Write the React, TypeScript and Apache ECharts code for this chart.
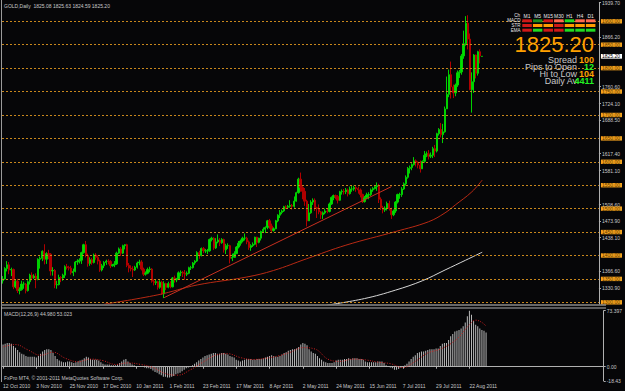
import React, { useEffect, useRef } from 'react';
import * as echarts from 'echarts';

const dateLabels = ['12 Oct 2010', '3 Nov 2010', '25 Nov 2010', '17 Dec 2010', '10 Jan 2011', '1 Feb 2011', '23 Feb 2011', '17 Mar 2011', '8 Apr 2011', '2 May 2011', '24 May 2011', '15 Jun 2011', '7 Jul 2011', '29 Jul 2011', '22 Aug 2011'];
const LABEL_STEP = 16;
const SLOT_COUNT = 289;

// daily candles: [open, close, low, high]
const oct2010 = [[1346, 1350, 1340, 1356], [1350, 1372, 1348, 1375], [1372, 1380, 1366, 1388], [1380, 1369, 1360, 1386], [1369, 1370, 1356, 1374], [1370, 1333, 1328, 1372], [1333, 1345, 1330, 1349], [1345, 1325, 1320, 1350], [1325, 1327, 1317, 1332], [1327, 1339, 1325, 1346], [1339, 1339, 1329, 1344], [1339, 1325, 1319, 1341], [1325, 1344, 1323, 1347], [1344, 1358, 1338, 1361]];
const nov2010 = [[1358, 1352, 1347, 1364], [1352, 1356, 1350, 1360], [1356, 1349, 1330, 1362], [1349, 1392, 1347, 1394], [1392, 1394, 1372, 1398], [1394, 1409, 1388, 1411], [1409, 1392, 1381, 1424], [1392, 1404, 1382, 1407], [1404, 1403, 1392, 1412], [1403, 1367, 1357, 1405], [1367, 1368, 1357, 1375], [1368, 1337, 1330, 1371], [1337, 1338, 1329, 1346], [1338, 1353, 1336, 1359], [1353, 1352, 1343, 1356], [1352, 1358, 1346, 1361], [1358, 1376, 1352, 1379], [1376, 1374, 1370, 1382], [1374, 1373, 1368, 1378], [1373, 1363, 1359, 1378], [1363, 1366, 1356, 1372], [1366, 1386, 1364, 1388]];
const dec2010 = [[1386, 1388, 1380, 1392], [1388, 1390, 1383, 1394], [1390, 1406, 1382, 1408], [1406, 1423, 1404, 1425], [1423, 1400, 1396, 1431], [1400, 1383, 1376, 1404], [1383, 1391, 1378, 1396], [1391, 1385, 1380, 1395], [1385, 1401, 1383, 1404], [1401, 1396, 1391, 1405], [1396, 1388, 1381, 1400], [1388, 1369, 1365, 1391], [1369, 1378, 1366, 1382], [1378, 1385, 1373, 1388], [1385, 1388, 1380, 1391], [1388, 1387, 1381, 1392], [1387, 1378, 1373, 1390], [1378, 1380, 1376, 1382], [1380, 1382, 1375, 1388], [1382, 1405, 1380, 1408], [1405, 1414, 1403, 1417], [1414, 1405, 1399, 1418], [1405, 1421, 1403, 1423]];
const jan2011 = [[1421, 1423, 1413, 1424], [1423, 1379, 1375, 1425], [1379, 1373, 1364, 1384], [1373, 1371, 1366, 1379], [1371, 1369, 1354, 1377], [1369, 1375, 1367, 1378], [1375, 1384, 1372, 1387], [1384, 1386, 1379, 1391], [1386, 1371, 1368, 1390], [1371, 1360, 1356, 1374], [1360, 1362, 1357, 1366], [1362, 1370, 1360, 1374], [1370, 1371, 1364, 1376], [1371, 1345, 1342, 1373], [1345, 1342, 1336, 1349], [1342, 1344, 1337, 1348], [1344, 1332, 1327, 1346], [1332, 1343, 1329, 1347], [1343, 1318, 1316, 1346], [1318, 1340, 1309, 1345], [1340, 1332, 1326, 1342]];
const feb2011 = [[1332, 1340, 1330, 1344], [1340, 1333, 1330, 1345], [1333, 1352, 1332, 1354], [1352, 1348, 1342, 1357], [1348, 1350, 1343, 1352], [1350, 1363, 1348, 1366], [1363, 1364, 1356, 1368], [1364, 1362, 1354, 1367], [1362, 1360, 1348, 1369], [1360, 1362, 1356, 1366], [1362, 1374, 1360, 1376], [1374, 1374, 1369, 1378], [1374, 1384, 1372, 1386], [1384, 1388, 1380, 1390], [1388, 1406, 1386, 1409], [1406, 1400, 1393, 1410], [1400, 1415, 1398, 1417], [1415, 1410, 1405, 1418], [1410, 1410, 1405, 1414], [1410, 1410, 1403, 1414]];
const mar2011 = [[1410, 1434, 1408, 1436], [1434, 1437, 1430, 1440], [1437, 1416, 1412, 1439], [1416, 1429, 1414, 1437], [1429, 1433, 1426, 1445], [1433, 1427, 1420, 1437], [1427, 1434, 1425, 1437], [1434, 1412, 1406, 1436], [1412, 1421, 1403, 1425], [1421, 1421, 1414, 1426], [1421, 1394, 1383, 1423], [1394, 1396, 1388, 1404], [1396, 1404, 1396, 1409], [1404, 1418, 1403, 1420], [1418, 1426, 1415, 1431], [1426, 1431, 1421, 1434], [1431, 1437, 1428, 1440], [1437, 1437, 1432, 1447], [1437, 1429, 1424, 1440], [1429, 1417, 1412, 1432], [1417, 1421, 1410, 1424], [1421, 1424, 1418, 1428], [1424, 1439, 1422, 1440]];
const apr2011 = [[1439, 1428, 1418, 1440], [1428, 1437, 1426, 1438], [1437, 1451, 1432, 1453], [1451, 1456, 1449, 1460], [1456, 1460, 1448, 1462], [1460, 1474, 1456, 1476], [1474, 1463, 1457, 1478], [1463, 1453, 1448, 1468], [1453, 1457, 1451, 1460], [1457, 1474, 1456, 1476], [1474, 1486, 1471, 1488], [1486, 1492, 1480, 1497], [1492, 1495, 1488, 1498], [1495, 1504, 1493, 1506], [1504, 1503, 1499, 1507], [1503, 1505, 1500, 1508], [1505, 1507, 1502, 1518], [1507, 1505, 1498, 1510], [1505, 1516, 1502, 1526], [1516, 1534, 1515, 1536], [1534, 1563, 1532, 1566]];
const may2011 = [[1563, 1545, 1536, 1577], [1545, 1537, 1520, 1548], [1537, 1516, 1506, 1544], [1516, 1474, 1462, 1519], [1474, 1491, 1478, 1510], [1491, 1514, 1489, 1518], [1514, 1518, 1508, 1522], [1518, 1502, 1495, 1522], [1502, 1500, 1480, 1504], [1500, 1493, 1488, 1509], [1493, 1487, 1478, 1495], [1487, 1491, 1478, 1494], [1491, 1495, 1488, 1500], [1495, 1494, 1490, 1500], [1494, 1510, 1492, 1513], [1510, 1524, 1508, 1526], [1524, 1528, 1518, 1530], [1528, 1526, 1520, 1530], [1526, 1518, 1511, 1529], [1518, 1536, 1517, 1538], [1536, 1537, 1530, 1541], [1537, 1536, 1530, 1542]];
const jun2011 = [[1536, 1540, 1531, 1544], [1540, 1532, 1526, 1543], [1532, 1542, 1530, 1547], [1542, 1542, 1536, 1550], [1542, 1545, 1538, 1549], [1545, 1543, 1536, 1548], [1543, 1540, 1532, 1547], [1540, 1530, 1524, 1543], [1530, 1515, 1512, 1532], [1515, 1523, 1513, 1527], [1523, 1529, 1520, 1534], [1529, 1530, 1520, 1535], [1530, 1540, 1527, 1543], [1540, 1543, 1536, 1546], [1543, 1547, 1541, 1550], [1547, 1549, 1538, 1556], [1549, 1520, 1512, 1553], [1520, 1502, 1497, 1524], [1502, 1497, 1490, 1506], [1497, 1501, 1493, 1505], [1501, 1511, 1496, 1515], [1511, 1500, 1496, 1517]];
const jul2011 = [[1500, 1487, 1478, 1502], [1487, 1495, 1484, 1498], [1495, 1514, 1491, 1516], [1514, 1530, 1511, 1532], [1530, 1530, 1521, 1534], [1530, 1542, 1525, 1546], [1542, 1553, 1540, 1556], [1553, 1567, 1549, 1571], [1567, 1586, 1564, 1589], [1586, 1588, 1575, 1592], [1588, 1594, 1582, 1597], [1594, 1602, 1592, 1610], [1602, 1599, 1590, 1605], [1599, 1593, 1586, 1601], [1593, 1585, 1577, 1603], [1585, 1601, 1585, 1603], [1601, 1614, 1598, 1623], [1614, 1617, 1610, 1622], [1617, 1612, 1605, 1625], [1612, 1614, 1608, 1620], [1614, 1628, 1608, 1632]];
const aug2011 = [[1628, 1623, 1610, 1636], [1623, 1660, 1620, 1662], [1660, 1669, 1656, 1672], [1669, 1658, 1652, 1683], [1658, 1664, 1640, 1681], [1664, 1713, 1662, 1718], [1713, 1744, 1713, 1782], [1744, 1786, 1738, 1797], [1786, 1760, 1735, 1814], [1760, 1747, 1736, 1765], [1747, 1764, 1740, 1767], [1764, 1790, 1760, 1795], [1790, 1792, 1779, 1796], [1792, 1826, 1786, 1830], [1826, 1852, 1820, 1880], [1852, 1896, 1848, 1911], [1896, 1862, 1840, 1913], [1862, 1754, 1753, 1874], [1754, 1771, 1705, 1791], [1771, 1828, 1747, 1830], [1828, 1789, 1778, 1829], [1789, 1835, 1784, 1837], [1835, 1826, 1810, 1840]];
const sep2011 = [[1825.08, 1825.2, 1824.59, 1825.63]];

// MACD(12,26,9) main line per bar (histogram)
const macdOct = [29, 30, 31, 31, 30, 27, 25, 22, 19, 17, 16, 14, 13, 13];
const macdNov = [13, 13, 12, 14, 17, 20, 22, 23, 23, 22, 18, 14, 10, 8, 7, 6, 6, 7, 7, 6, 5, 6];
const macdDec = [7, 8, 9, 11, 13, 12, 10, 9, 9, 9, 8, 6, 4, 3, 3, 3, 2, 2, 2, 3, 5, 7, 9];
const macdJan = [10, 7, 5, 3, 2, 1, 1, 1, 0, -1, -2, -2, -3, -5, -7, -8, -10, -11, -13, -13, -14];
const macdFeb = [-14, -13, -12, -10, -9, -8, -6, -4, -2, -1, 0, 2, 4, 6, 8, 10, 12, 14, 15, 16];
const macdMar = [17, 18, 18, 17, 17, 18, 18, 17, 16, 14, 13, 12, 9, 8, 7, 8, 9, 10, 10, 10, 9, 9, 10];
const macdApr = [10, 10, 11, 12, 13, 14, 15, 14, 13, 13, 14, 16, 18, 19, 21, 22, 23, 23, 24, 26, 29];
const macdMay = [31, 30, 28, 23, 20, 18, 17, 14, 11, 9, 7, 6, 5, 5, 5, 6, 8, 9, 9, 9, 10, 10];
const macdJun = [11, 10, 11, 11, 11, 10, 10, 9, 7, 6, 6, 6, 6, 6, 7, 7, 7, 5, 2, 0, -1, -2];
const macdJul = [-4, -4, -3, -1, 0, 2, 4, 7, 10, 13, 15, 18, 19, 20, 20, 21, 22, 23, 23, 23, 24];
const macdAug = [24, 27, 30, 31, 31, 35, 40, 43, 46, 47, 48, 50, 53, 58, 66, 73.4, 68, 60, 55, 53, 50, 48, 47];
const macdSep = [44.98];

// signal line points: [bar index, value]
const signalPoints = [[0, 26], [6, 29], [12, 22], [18, 15], [24, 19], [30, 11], [36, 6.5], [42, 10], [48, 8], [54, 3], [60, 5], [66, 3], [72, -1], [78, -9], [84, -11], [90, -4], [96, 6], [102, 15], [108, 17], [114, 12], [120, 9.5], [126, 11], [132, 14], [138, 19], [144, 25], [150, 23], [156, 10], [162, 7], [168, 10], [174, 9], [180, 6], [186, 4], [192, -1], [198, 7], [204, 18], [210, 23], [216, 32], [220, 42], [224, 55], [227, 61], [230, 58], [232, 53]];

// moving averages and trend line: [bar index, price]
const maRedPoints = [[49, 1296], [75, 1316], [94, 1337], [118, 1354], [131, 1368], [147, 1393], [166, 1422], [190, 1451], [206, 1472], [214, 1491], [219, 1508], [227, 1536], [232, 1561]];
const maWhitePoints = [[157, 1294], [175, 1308], [190, 1326], [203, 1346], [214, 1369], [224, 1390], [232, 1407]];
const trendPoints = [[78, 1310], [188, 1547]];

// price scale (labels hidden behind the level boxes are left out)
const priceMin = 1296.4;
const priceMax = 1939.7;
const priceTicks = [1939.7, 1866.2, 1760.6, 1724.1, 1688.5, 1617.4, 1581.1, 1508.6, 1473.9, 1438.1, 1366.6, 1330.9];
const levelLines = [1900, 1850, 1800, 1750, 1700, 1650, 1600, 1550, 1500, 1450, 1400, 1350, 1300];
const currentPrice = 1825.2;
const macdMin = -18.43;
const macdMax = 73.397;
const macdTicks = [73.397, 0, -18.43];
const macdTickText = ['73.397', '0.00', '-18.43'];

// top-right signal table
const tfLabels = ['M1', 'M5', 'M15', 'M30', 'H1', 'H4', 'D1'];
const rowLabels = ['MACD', 'STR', 'EMA'];
const cellColors = [
  ['#d01818', '#1c8c1c', '#d01818', '#ff6a50', '#22dd22', '#ff6a50', '#ff6a50'],
  ['#d01818', '#ff9a00', '#ff9a00', '#d01818', '#ff9a00', '#ff9a00', '#ff9a00'],
  ['#d01818', '#22dd22', '#d01818', '#d01818', '#22dd22', '#22dd22', '#22dd22'],
];
const infoRows = [
  { label: 'Spread', value: '100', color: '#ffa000' },
  { label: 'Pips to Open', value: '12', color: '#22ee22' },
  { label: 'Hi to Low', value: '104', color: '#ffa000' },
  { label: 'Daily Av', value: '4411', color: '#22ee22' },
];
const titleText = 'GOLD,Daily  1825.08 1825.63 1824.59 1825.20';
const macdTitle = 'MACD(12,26,9) 44.980 53.023';
const copyright = 'FxPro MT4, © 2001-2011 MetaQuotes Software Corp.';

const FONT = 'Liberation Sans, Arial, sans-serif';
const GRAY = '#c8c8c8';

export default function App() {
  const ref = useRef<HTMLDivElement>(null);
  useEffect(() => {
    if (!ref.current) return;
    const chart = echarts.init(ref.current, null, { renderer: 'svg' });
    const candles = [...oct2010, ...nov2010, ...dec2010, ...jan2011, ...feb2011, ...mar2011, ...apr2011, ...may2011, ...jun2011, ...jul2011, ...aug2011, ...sep2011];
    const macd = [...macdOct, ...macdNov, ...macdDec, ...macdJan, ...macdFeb, ...macdMar, ...macdApr, ...macdMay, ...macdJun, ...macdJul, ...macdAug, ...macdSep];
    const cats = Array.from({ length: SLOT_COUNT }, (_, i) => String(i));
    const isLabel = (i: number) => i % LABEL_STEP === 0 && i / LABEL_STEP < dateLabels.length;

    const graphics: any[] = [];
    graphics.push({ type: 'line', shape: { x1: 1.5, y1: 0, x2: 1.5, y2: 382 }, style: { stroke: '#9a9a9a', lineWidth: 1 }, z: 10 });
    graphics.push({ type: 'line', shape: { x1: 1, y1: 305, x2: 606, y2: 305 }, style: { stroke: '#8a8a8a', lineWidth: 1.5 }, z: 10 });
    graphics.push({ type: 'line', shape: { x1: 1, y1: 308, x2: 606, y2: 308 }, style: { stroke: '#b0b0b0', lineWidth: 1 }, z: 10 });
    graphics.push({ type: 'text', x: 4, y: 6, style: { text: titleText, fill: GRAY, font: `5px ${FONT}`, textVerticalAlign: 'middle' }, z: 10 });
    graphics.push({ type: 'text', x: 4, y: 314, style: { text: macdTitle, fill: GRAY, font: `5px ${FONT}`, textVerticalAlign: 'middle' }, z: 10 });
    graphics.push({ type: 'text', x: 4, y: 378, style: { text: copyright, fill: GRAY, font: `5px ${FONT}`, textVerticalAlign: 'middle' }, z: 10 });
    const cellX0 = 522.3, cellStep = 10.6, cellW = 9.5;
    const rowY = [19.3, 24, 28.7];
    tfLabels.forEach((t, j) => {
      graphics.push({ type: 'text', x: cellX0 + j * cellStep + cellW / 2, y: 15.5, style: { text: t, fill: '#e8e8e8', font: `5px ${FONT}`, lineHeight: 4, textAlign: 'center', textVerticalAlign: 'middle' }, z: 10 });
    });
    graphics.push({ type: 'text', x: 520, y: 15.5, style: { text: 'Ch', fill: '#e8e8e8', font: `4.5px ${FONT}`, lineHeight: 4, textAlign: 'right', textVerticalAlign: 'middle' }, z: 10 });
    rowLabels.forEach((r, i) => {
      graphics.push({ type: 'text', x: 520.5, y: rowY[i] + 1.5, style: { text: r, fill: '#e8e8e8', font: `4.5px ${FONT}`, lineHeight: 4, textAlign: 'right', textVerticalAlign: 'middle' }, z: 10 });
      cellColors[i].forEach((c, j) => {
        graphics.push({ type: 'rect', shape: { x: cellX0 + j * cellStep, y: rowY[i], width: cellW, height: 3 }, style: { fill: c }, z: 10 });
      });
    });
    graphics.push({ type: 'text', x: 594, y: 44, style: { text: '1825.20', fill: '#ffa000', font: `22px ${FONT}`, lineHeight: 18, textAlign: 'right', textVerticalAlign: 'middle' }, z: 10 });
    infoRows.forEach((row, i) => {
      const y = 59.5 + i * 7.2;
      graphics.push({ type: 'text', x: 577, y, style: { text: row.label, fill: '#c8c8c8', font: `9px ${FONT}`, lineHeight: 7, textAlign: 'right', textVerticalAlign: 'middle' }, z: 10 });
      graphics.push({ type: 'text', x: 594, y, style: { text: row.value, fill: row.color, font: `bold 9px ${FONT}`, lineHeight: 7, textAlign: 'right', textVerticalAlign: 'middle' }, z: 10 });
    });

    const labelBase = { fontSize: 5, fontFamily: FONT };
    chart.setOption({
      animation: false,
      backgroundColor: '#060608',
      grid: [
        { left: 2, top: 2.7, width: 603, height: 301.3 },
        { left: 2, top: 310.7, width: 603, height: 70.1 },
      ],
      xAxis: [
        { type: 'category', gridIndex: 0, data: cats, show: false },
        {
          type: 'category', gridIndex: 1, data: cats,
          axisLine: { show: true, lineStyle: { color: '#b0b0b0' } },
          axisTick: { show: true, interval: (i: number) => isLabel(i), alignWithLabel: true, length: 2, lineStyle: { color: '#b0b0b0' } },
          axisLabel: {
            interval: (i: number) => isLabel(i), formatter: (_v: string, i: number) => dateLabels[i / LABEL_STEP] || '',
            color: GRAY, align: 'left', margin: 3, ...labelBase,
          },
        },
      ],
      yAxis: [
        {
          type: 'value', gridIndex: 0, position: 'right', min: priceMin, max: priceMax, splitLine: { show: false },
          axisLine: { show: true, lineStyle: { color: '#b0b0b0' } },
          axisTick: { show: true, length: 2, customValues: priceTicks, lineStyle: { color: '#b0b0b0' } },
          axisLabel: { customValues: priceTicks, formatter: (v: number) => v.toFixed(2), color: GRAY, margin: 3, lineHeight: 3.8, ...labelBase },
        },
        {
          type: 'value', gridIndex: 0, position: 'right', min: priceMin, max: priceMax, splitLine: { show: false }, z: 5,
          axisLine: { show: false }, axisTick: { show: false },
          axisLabel: { customValues: levelLines, formatter: (v: number) => v.toFixed(2), color: '#5a3800', backgroundColor: '#f5a21e', lineHeight: 4.2, padding: [0.2, 2, 0, 1], margin: 2, ...labelBase },
        },
        {
          type: 'value', gridIndex: 0, position: 'right', min: priceMin, max: priceMax, splitLine: { show: false }, z: 6,
          axisLine: { show: false }, axisTick: { show: false },
          axisLabel: { customValues: [currentPrice], formatter: (v: number) => v.toFixed(2), color: '#000000', backgroundColor: '#ffffff', lineHeight: 4.4, padding: [0.3, 2, 0, 1], margin: 2, ...labelBase },
        },
        {
          type: 'value', gridIndex: 1, position: 'right', min: macdMin, max: macdMax, splitLine: { show: false },
          axisLine: { show: true, lineStyle: { color: '#b0b0b0' } },
          axisTick: { show: true, length: 2, customValues: macdTicks, lineStyle: { color: '#b0b0b0' } },
          axisLabel: { customValues: macdTicks, formatter: (v: number) => macdTickText[macdTicks.indexOf(v)] ?? String(v), color: GRAY, margin: 3, ...labelBase },
        },
      ],
      series: [
        {
          type: 'candlestick', xAxisIndex: 0, yAxisIndex: 0, data: candles, barWidth: 1.8,
          itemStyle: { color: '#00e000', color0: '#b00000', borderColor: '#00d000', borderColor0: '#b00000', borderWidth: 1 },
          markLine: {
            silent: true, symbol: 'none', label: { show: false },
            lineStyle: { color: '#c8871c', type: [2, 2], width: 1 },
            data: levelLines.map((v) => ({ yAxis: v })),
          },
        },
        { type: 'line', xAxisIndex: 0, yAxisIndex: 0, data: maRedPoints, smooth: 0.4, symbol: 'none', lineStyle: { color: '#b82a14', width: 1 } },
        { type: 'line', xAxisIndex: 0, yAxisIndex: 0, data: maWhitePoints, smooth: 0.4, symbol: 'none', lineStyle: { color: '#d8d8d8', width: 1 } },
        { type: 'line', xAxisIndex: 0, yAxisIndex: 0, data: trendPoints, symbol: 'none', lineStyle: { color: '#c83020', width: 1 } },
        { type: 'bar', xAxisIndex: 1, yAxisIndex: 3, data: macd, barWidth: 1, itemStyle: { color: '#b8b8b8' } },
        { type: 'line', xAxisIndex: 1, yAxisIndex: 3, data: signalPoints, smooth: 0.4, symbol: 'none', lineStyle: { color: '#d02020', width: 1, type: [1, 1.5] } },
      ],
      graphic: graphics,
    });
    return () => chart.dispose();
  }, []);
  return <div ref={ref} style={{ position: 'fixed', left: 0, top: 0, width: 625, height: 391 }} />;
}
